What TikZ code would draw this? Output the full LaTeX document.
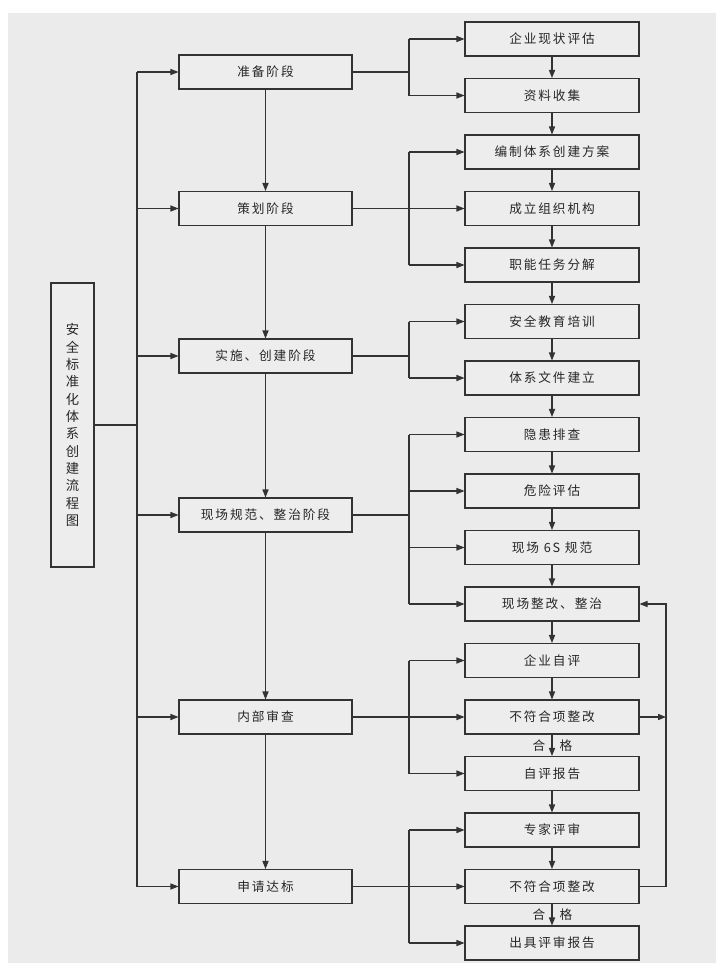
\documentclass[tikz,border=0pt]{standalone}
\usepackage{fontspec}
\setmainfont{Noto Sans CJK SC}
\newfontfamily\cjk[LetterSpace=15]{Noto Sans CJK SC}
\usetikzlibrary{arrows.meta,calc}
\begin{document}
\begin{tikzpicture}[x=0.75pt,y=-0.75pt,
  line width=0.8pt,
  color=black!80,
  arr/.style={-{Triangle[length=6pt,width=4.6pt]}},
  rbox/.style={draw=black!80,fill=black!7,minimum width=130.5pt,minimum height=25.5pt,inner sep=0pt,
    font=\cjk\fontsize{9.5}{11}\selectfont,text=black!85},
  pbox/.style={rbox,minimum width=129.75pt},
  lab/.style={font=\cjk\fontsize{9.5}{11}\selectfont,text=black!85,inner sep=0pt}]
\useasboundingbox (0,0) rectangle (726,967);
\fill[black!8] (8,13) rectangle (716,963);
% left title box
\node[draw=black!80,fill=black!7,minimum width=32.25pt,minimum height=213pt,inner sep=0pt,align=center,
  font=\fontsize{10}{13}\selectfont,text=black!85] (L) at (72.5,425)
  {安\\全\\标\\准\\化\\体\\系\\创\\建\\流\\程\\图};
% right column
\node[rbox] (r0)  at (552,39)    {企业现状评估};
\node[rbox] (r1)  at (552,95.5)  {资料收集};
\node[rbox] (r2)  at (552,152)   {编制体系创建方案};
\node[rbox] (r3)  at (552,208.5) {成立组织机构};
\node[rbox] (r4)  at (552,265)   {职能任务分解};
\node[rbox] (r5)  at (552,321.5) {安全教育培训};
\node[rbox] (r6)  at (552,378)   {体系文件建立};
\node[rbox] (r7)  at (552,434.5) {隐患排查};
\node[rbox] (r8)  at (552,491)   {危险评估};
\node[rbox] (r9)  at (552,547.5) {现场 6S 规范};
\node[rbox] (r10) at (552,604)   {现场整改、整治};
\node[rbox] (r11) at (552,660.5) {企业自评};
\node[rbox] (r12) at (552,717)   {不符合项整改};
\node[rbox] (r13) at (552,773.5) {自评报告};
\node[rbox] (r14) at (552,830)   {专家评审};
\node[rbox] (r15) at (552,886.5) {不符合项整改};
\node[rbox] (r16) at (552,943)   {出具评审报告};
% phase column
\node[pbox] (p1) at (265.5,72)    {准备阶段};
\node[pbox] (p2) at (265.5,208.5) {策划阶段};
\node[pbox] (p3) at (265.5,356)   {实施、创建阶段};
\node[pbox] (p4) at (265.5,515)   {现场规范、整治阶段};
\node[pbox] (p5) at (265.5,717)   {内部审查};
\node[pbox] (p6) at (265.5,886.5) {申请达标};
% spine
\coordinate (sx) at (137,0);
\coordinate (bx) at (409,0);
\coordinate (fx) at (666,0);
\draw (L.east) -- (L.east -| sx);
\draw (p1.west -| sx) -- (p6.west -| sx);
\foreach \p in {p1,p2,p3,p4,p5,p6}{\draw[arr] (\p.west -| sx) -- (\p.west);}
% phase vertical arrows
\draw[arr] (p1.south) -- (p2.north);
\draw[arr] (p2.south) -- (p3.north);
\draw[arr] (p3.south) -- (p4.north);
\draw[arr] (p4.south) -- (p5.north);
\draw[arr] (p5.south) -- (p6.north);
% right column arrows
\foreach \a/\b in {r0/r1,r1/r2,r2/r3,r3/r4,r4/r5,r5/r6,r6/r7,r7/r8,r8/r9,r9/r10,r10/r11,r11/r12,r12/r13,r13/r14,r14/r15,r15/r16}
  {\draw[arr] (\a.south) -- (\b.north);}
% branches
\draw (p1.east) -- (p1.east -| bx);
\draw (r0.west -| bx) -- (r1.west -| bx);
\foreach \r in {r0,r1}{\draw[arr] (\r.west -| bx) -- (\r.west);}
\draw (p2.east) -- (p2.east -| bx);
\draw (r2.west -| bx) -- (r4.west -| bx);
\foreach \r in {r2,r3,r4}{\draw[arr] (\r.west -| bx) -- (\r.west);}
\draw (p3.east) -- (p3.east -| bx);
\draw (r5.west -| bx) -- (r6.west -| bx);
\foreach \r in {r5,r6}{\draw[arr] (\r.west -| bx) -- (\r.west);}
\draw (p4.east) -- (p4.east -| bx);
\draw (r7.west -| bx) -- (r10.west -| bx);
\foreach \r in {r7,r8,r9,r10}{\draw[arr] (\r.west -| bx) -- (\r.west);}
\draw (p5.east) -- (p5.east -| bx);
\draw (r11.west -| bx) -- (r13.west -| bx);
\foreach \r in {r11,r12,r13}{\draw[arr] (\r.west -| bx) -- (\r.west);}
\draw (p6.east) -- (p6.east -| bx);
\draw (r14.west -| bx) -- (r16.west -| bx);
\foreach \r in {r14,r15,r16}{\draw[arr] (\r.west -| bx) -- (\r.west);}
% feedback loop
\draw[arr] (r12.east) -- (r12.east -| fx);
\draw[arr] (r15.east) -- (r15.east -| fx) |- (r10.east);
% labels
\node[lab] (h1) at (539,745.5) {合};
\node[lab] (g1) at (566,745.5) {格};
\node[lab] (h2) at (539,914.5) {合};
\node[lab] (g2) at (566,914.5) {格};
\end{tikzpicture}
\end{document}
